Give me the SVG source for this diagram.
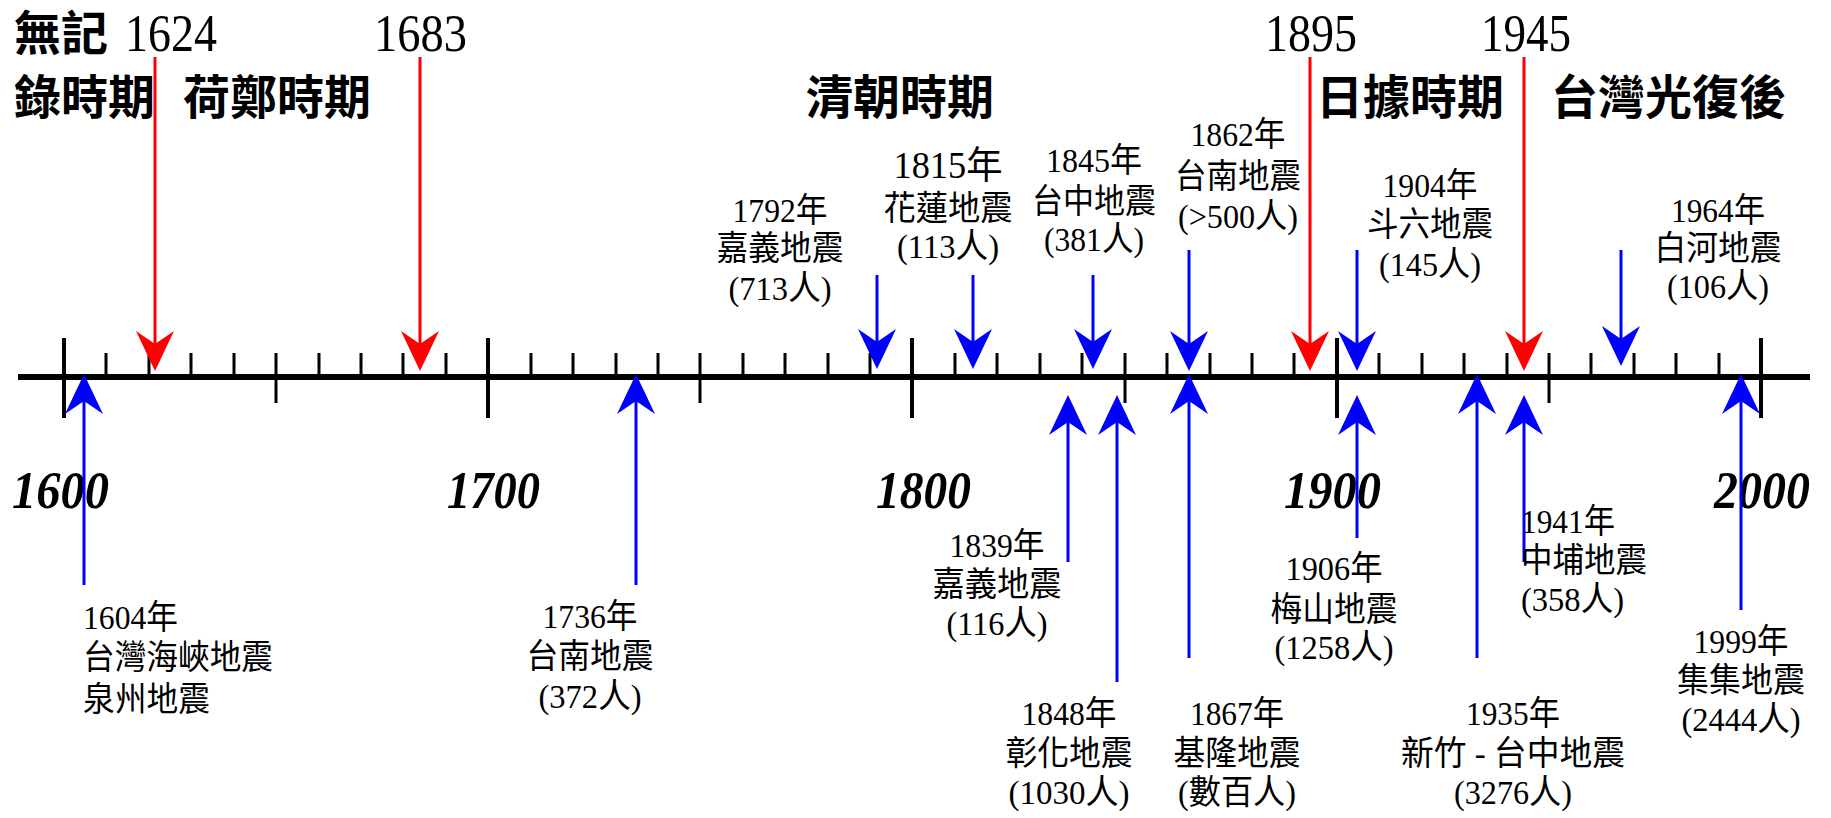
<svg xmlns="http://www.w3.org/2000/svg" width="1831" height="818" viewBox="0 0 1831 818">
<style>
.hdr{font-family:"Noto Sans CJK TC","Noto Sans CJK SC",sans-serif;font-weight:700;font-size:47px;fill:#000}
.yr{font-family:"Liberation Serif","Times New Roman",serif;font-size:52px;fill:#000}
.ax{font-family:"Liberation Serif","Times New Roman",serif;font-weight:bold;font-style:italic;font-size:52px;fill:#000}
.lbl{font-family:"Liberation Serif","Noto Sans CJK TC","Noto Sans CJK SC",serif;font-size:34px;fill:#000;text-anchor:middle}
.lbl.l{text-anchor:start}
.big{font-size:38px}
.tick{stroke:#000;fill:none}
.red{stroke:#FF0000;stroke-width:3;fill:none}
.blue{stroke:#0000FF;stroke-width:3;fill:none}
.red.d{marker-end:url(#hr)}
.blue.d{marker-end:url(#hb)}
</style>
<defs>
<marker id="hr" markerUnits="userSpaceOnUse" viewBox="-42 -21 44 42" refX="-12" refY="0" markerWidth="44" markerHeight="42" orient="auto">
<path d="M0,0 L-40,-19 L-27,0 L-40,19 Z" fill="#FF0000"/>
</marker>
<marker id="hb" markerUnits="userSpaceOnUse" viewBox="-42 -21 44 42" refX="-12" refY="0" markerWidth="44" markerHeight="42" orient="auto">
<path d="M0,0 L-40,-19 L-27,0 L-40,19 Z" fill="#0000FF"/>
</marker>
</defs>
<rect width="1831" height="818" fill="#fff"/>

<g id="periods">
<text class="hdr" x="14" y="50">無記</text>
<text class="hdr" x="14" y="114">錄時期</text>
<text class="hdr" x="183" y="114">荷鄭時期</text>
<text class="hdr" x="806" y="114">清朝時期</text>
<text class="hdr" x="1316" y="114">日據時期</text>
<text class="hdr" x="1551" y="114">台灣光復後</text>
</g>
<g id="period-years">
<text class="yr" x="125" y="51" textLength="92" lengthAdjust="spacingAndGlyphs">1624</text>
<text class="yr" x="374" y="51" textLength="93" lengthAdjust="spacingAndGlyphs">1683</text>
<text class="yr" x="1265" y="51" textLength="92" lengthAdjust="spacingAndGlyphs">1895</text>
<text class="yr" x="1481" y="51" textLength="90" lengthAdjust="spacingAndGlyphs">1945</text>
</g>

<g id="axis">
<line x1="18" y1="377" x2="1810" y2="377" stroke="#000" stroke-width="6"/>
<path class="tick" stroke-width="3" d="M106,353V377M149,353V377M191,353V377M234,353V377M319,353V377M361,353V377M403,353V377M446,353V377M531,353V377M573,353V377M616,353V377M658,353V377M743,353V377M785,353V377M828,353V377M870,353V377M955,353V377M997,353V377M1040,353V377M1082,353V377M1167,353V377M1210,353V377M1252,353V377M1294,353V377M1379,353V377M1422,353V377M1464,353V377M1507,353V377M1591,353V377M1634,353V377M1676,353V377M1719,353V377"/>
<path class="tick" stroke-width="3" d="M276,353V403M700,353V403M1125,353V403M1549,353V403"/>
<path class="tick" stroke-width="4" d="M64,338V418M488,338V418M912,338V418M1337,338V418M1761,338V418"/>
<text class="ax" x="12" y="508" textLength="97" lengthAdjust="spacingAndGlyphs">1600</text>
<text class="ax" x="447" y="508" textLength="93" lengthAdjust="spacingAndGlyphs">1700</text>
<text class="ax" x="876" y="508" textLength="95" lengthAdjust="spacingAndGlyphs">1800</text>
<text class="ax" x="1284" y="508" textLength="97" lengthAdjust="spacingAndGlyphs">1900</text>
<text class="ax" x="1714" y="508" textLength="96" lengthAdjust="spacingAndGlyphs">2000</text>
</g>

<g id="connectors">
<line class="red d" x1="155" y1="57" x2="155" y2="359"/>
<line class="red d" x1="420" y1="57" x2="420" y2="359"/>
<line class="red d" x1="1310" y1="57" x2="1310" y2="359"/>
<line class="red d" x1="1524" y1="57" x2="1524" y2="359"/>
<line class="blue d" x1="877" y1="275" x2="877" y2="357"/>
<line class="blue d" x1="973" y1="275" x2="973" y2="357"/>
<line class="blue d" x1="1093" y1="275" x2="1093" y2="357"/>
<line class="blue d" x1="1189" y1="250" x2="1189" y2="359"/>
<line class="blue d" x1="1357" y1="250" x2="1357" y2="359"/>
<line class="blue d" x1="1621" y1="250" x2="1621" y2="354"/>
<line class="blue d" x1="84" y1="585" x2="84" y2="386"/>
<line class="blue d" x1="636" y1="585" x2="636" y2="386"/>
<line class="blue d" x1="1068" y1="562" x2="1068" y2="407"/>
<line class="blue d" x1="1117" y1="682" x2="1117" y2="407"/>
<line class="blue d" x1="1189" y1="658" x2="1189" y2="386"/>
<line class="blue d" x1="1357" y1="538" x2="1357" y2="407"/>
<line class="blue d" x1="1477" y1="658" x2="1477" y2="386"/>
<line class="blue d" x1="1524" y1="562" x2="1524" y2="407"/>
<line class="blue d" x1="1741" y1="610" x2="1741" y2="386"/>
</g>

<g id="eq-1604">
<text class="lbl l" x="83" y="629" textLength="95" lengthAdjust="spacingAndGlyphs">1604年</text>
<text class="lbl l" x="83" y="669" textLength="190" lengthAdjust="spacingAndGlyphs">台灣海峽地震</text>
<text class="lbl l" x="83" y="711" textLength="127" lengthAdjust="spacingAndGlyphs">泉州地震</text>
</g>
<g id="eq-1736">
<text class="lbl" x="590" y="628" textLength="95" lengthAdjust="spacingAndGlyphs">1736年</text>
<text class="lbl" x="590" y="668" textLength="127" lengthAdjust="spacingAndGlyphs">台南地震</text>
<text class="lbl" x="590" y="708" textLength="103" lengthAdjust="spacingAndGlyphs">(372人)</text>
</g>
<g id="eq-1792">
<text class="lbl" x="780" y="222" textLength="95" lengthAdjust="spacingAndGlyphs">1792年</text>
<text class="lbl" x="780" y="260" textLength="127" lengthAdjust="spacingAndGlyphs">嘉義地震</text>
<text class="lbl" x="780" y="300" textLength="103" lengthAdjust="spacingAndGlyphs">(713人)</text>
</g>
<g id="eq-1815">
<text class="lbl big" x="948" y="178" textLength="109" lengthAdjust="spacingAndGlyphs">1815年</text>
<text class="lbl" x="948" y="220" textLength="129" lengthAdjust="spacingAndGlyphs">花蓮地震</text>
<text class="lbl" x="948" y="258" textLength="102" lengthAdjust="spacingAndGlyphs">(113人)</text>
</g>
<g id="eq-1839">
<text class="lbl" x="997" y="557" textLength="95" lengthAdjust="spacingAndGlyphs">1839年</text>
<text class="lbl" x="997" y="596" textLength="129" lengthAdjust="spacingAndGlyphs">嘉義地震</text>
<text class="lbl" x="997" y="635" textLength="101" lengthAdjust="spacingAndGlyphs">(116人)</text>
</g>
<g id="eq-1845">
<text class="lbl" x="1094" y="172" textLength="96" lengthAdjust="spacingAndGlyphs">1845年</text>
<text class="lbl" x="1094" y="213" textLength="124" lengthAdjust="spacingAndGlyphs">台中地震</text>
<text class="lbl" x="1094" y="251" textLength="100" lengthAdjust="spacingAndGlyphs">(381人)</text>
</g>
<g id="eq-1848">
<text class="lbl" x="1069" y="725" textLength="95" lengthAdjust="spacingAndGlyphs">1848年</text>
<text class="lbl" x="1069" y="765" textLength="127" lengthAdjust="spacingAndGlyphs">彰化地震</text>
<text class="lbl" x="1069" y="804" textLength="121" lengthAdjust="spacingAndGlyphs">(1030人)</text>
</g>
<g id="eq-1862">
<text class="lbl" x="1238" y="146" textLength="95" lengthAdjust="spacingAndGlyphs">1862年</text>
<text class="lbl" x="1238" y="188" textLength="126" lengthAdjust="spacingAndGlyphs">台南地震</text>
<text class="lbl" x="1238" y="228" textLength="120" lengthAdjust="spacingAndGlyphs">(&gt;500人)</text>
</g>
<g id="eq-1867">
<text class="lbl" x="1237" y="725" textLength="94" lengthAdjust="spacingAndGlyphs">1867年</text>
<text class="lbl" x="1237" y="765" textLength="127" lengthAdjust="spacingAndGlyphs">基隆地震</text>
<text class="lbl" x="1237" y="804" textLength="118" lengthAdjust="spacingAndGlyphs">(數百人)</text>
</g>
<g id="eq-1904">
<text class="lbl" x="1430" y="197" textLength="95" lengthAdjust="spacingAndGlyphs">1904年</text>
<text class="lbl" x="1430" y="236" textLength="126" lengthAdjust="spacingAndGlyphs">斗六地震</text>
<text class="lbl" x="1430" y="276" textLength="102" lengthAdjust="spacingAndGlyphs">(145人)</text>
</g>
<g id="eq-1906">
<text class="lbl" x="1334" y="580" textLength="97" lengthAdjust="spacingAndGlyphs">1906年</text>
<text class="lbl" x="1334" y="621" textLength="127" lengthAdjust="spacingAndGlyphs">梅山地震</text>
<text class="lbl" x="1334" y="659" textLength="119" lengthAdjust="spacingAndGlyphs">(1258人)</text>
</g>
<g id="eq-1935">
<text class="lbl" x="1513" y="725" textLength="94" lengthAdjust="spacingAndGlyphs">1935年</text>
<text class="lbl" x="1513" y="765" textLength="224" lengthAdjust="spacingAndGlyphs">新竹 - 台中地震</text>
<text class="lbl" x="1513" y="804" textLength="118" lengthAdjust="spacingAndGlyphs">(3276人)</text>
</g>
<g id="eq-1941">
<text class="lbl l" x="1521" y="533" textLength="94" lengthAdjust="spacingAndGlyphs">1941年</text>
<text class="lbl l" x="1521" y="572" textLength="126" lengthAdjust="spacingAndGlyphs">中埔地震</text>
<text class="lbl l" x="1521" y="611" textLength="103" lengthAdjust="spacingAndGlyphs">(358人)</text>
</g>
<g id="eq-1964">
<text class="lbl" x="1718" y="222" textLength="94" lengthAdjust="spacingAndGlyphs">1964年</text>
<text class="lbl" x="1718" y="260" textLength="127" lengthAdjust="spacingAndGlyphs">白河地震</text>
<text class="lbl" x="1718" y="298" textLength="102" lengthAdjust="spacingAndGlyphs">(106人)</text>
</g>
<g id="eq-1999">
<text class="lbl" x="1741" y="653" textLength="95" lengthAdjust="spacingAndGlyphs">1999年</text>
<text class="lbl" x="1741" y="692" textLength="128" lengthAdjust="spacingAndGlyphs">集集地震</text>
<text class="lbl" x="1741" y="731" textLength="119" lengthAdjust="spacingAndGlyphs">(2444人)</text>
</g>
</svg>
